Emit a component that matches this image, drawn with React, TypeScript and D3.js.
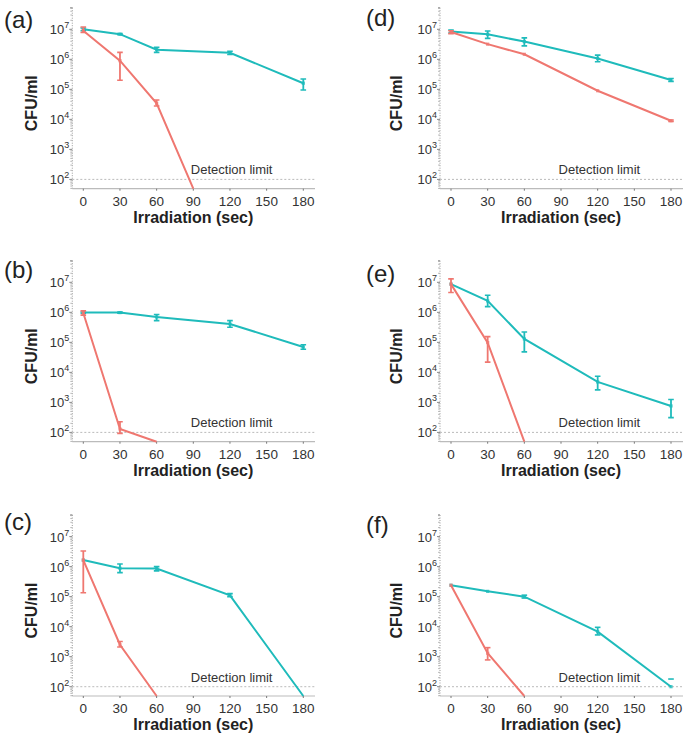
import React from "react";
import * as d3 from "d3";

// Below-detection values are drawn at the axis floor
const FLOOR = 49;

const panelLabels = ["(a)", "(b)", "(c)", "(d)", "(e)", "(f)"];
const xTicks = [0, 30, 60, 90, 120, 150, 180];
const yTickExps = [2, 3, 4, 5, 6, 7];
const xFull = [0, 30, 60, 120, 180];

// (a)
const aTealX = xFull;
const aTeal = [1e7, 6.9e6, 2.1e6, 1.65e6, 1.6e5];
const aTealLo = [9e6, 6.6e6, 1.7e6, 1.45e6, 9.5e4];
const aTealHi = [1.1e7, 7.2e6, 2.5e6, 1.85e6, 2.2e5];
const aRedX = [0, 30, 60, 90];
const aRed = [9e6, 9e5, 3.4e4, FLOOR];
const aRedLo = [7.8e6, 2e5, 2.8e4, NaN];
const aRedHi = [1.2e7, 1.7e6, 4.4e4, NaN];

// (b)
const bTealX = xFull;
const bTeal = [9.8e5, 9.8e5, 7e5, 4.1e5, 7e4];
const bTealLo = [9.3e5, 9.3e5, 5.3e5, 3.2e5, 5.9e4];
const bTealHi = [1.03e6, 1.02e6, 8.5e5, 5.3e5, 8.3e4];
const bRedX = [0, 30, 60];
const bRed = [9.5e5, 130, FLOOR];
const bRedLo = [8.1e5, 93, NaN];
const bRedHi = [1.12e6, 225, NaN];

// (c)
const cTealX = xFull;
const cTeal = [1.65e6, 8.8e5, 8.6e5, 1.1e5, FLOOR];
const cTealLo = [NaN, 6.3e5, 7.2e5, 1e5, NaN];
const cTealHi = [NaN, 1.23e6, 1e6, 1.26e5, NaN];
const cRedX = [0, 30, 60];
const cRed = [1.65e6, 2.5e3, FLOOR];
const cRedLo = [1.35e5, 2.1e3, NaN];
const cRedHi = [3.3e6, 3.2e3, NaN];

// (d)
const dTealX = xFull;
const dTeal = [8.5e6, 6.8e6, 3.9e6, 1.07e6, 2.05e5];
const dTealLo = [7.5e6, 5e6, 2.8e6, 8.3e5, 1.85e5];
const dTealHi = [9.5e6, 8.8e6, 5.2e6, 1.38e6, 2.3e5];
const dRedX = xFull;
const dRed = [8.1e6, 3.2e6, 1.47e6, 9e4, 9e3];
const dRedLo = [7.2e6, NaN, NaN, NaN, 8.5e3];
const dRedHi = [9e6, NaN, NaN, NaN, 9.5e3];

// (e)
const eTealX = xFull;
const eTeal = [8.7e6, 2.4e6, 1.3e5, 4.8e3, 760];
const eTealLo = [NaN, 1.55e6, 4.8e4, 2.6e3, 310];
const eTealHi = [NaN, 3.7e6, 2.2e5, 7.4e3, 1.25e3];
const eRedX = [0, 30, 60];
const eRed = [8.7e6, 9.8e4, FLOOR];
const eRedLo = [4.6e6, 2.2e4, NaN];
const eRedHi = [1.3e7, 1.55e5, NaN];

// (f)
const fTealX = xFull;
const fTeal = [2.4e5, 1.5e5, 1e5, 6.8e3, 100];
const fTealLo = [NaN, NaN, 9e4, 5.3e3, NaN];
const fTealHi = [NaN, NaN, 1.12e5, 9.5e3, 180];
const fRedX = [0, 30, 60];
const fRed = [2.4e5, 1.3e3, FLOOR];
const fRedLo = [NaN, 780, NaN];
const fRedHi = [NaN, 2e3, NaN];

type Series = { x: number[]; y: number[]; lo: number[]; hi: number[] };
const panels: { red: Series; teal: Series }[] = [
  { red: { x: aRedX, y: aRed, lo: aRedLo, hi: aRedHi }, teal: { x: aTealX, y: aTeal, lo: aTealLo, hi: aTealHi } },
  { red: { x: bRedX, y: bRed, lo: bRedLo, hi: bRedHi }, teal: { x: bTealX, y: bTeal, lo: bTealLo, hi: bTealHi } },
  { red: { x: cRedX, y: cRed, lo: cRedLo, hi: cRedHi }, teal: { x: cTealX, y: cTeal, lo: cTealLo, hi: cTealHi } },
  { red: { x: dRedX, y: dRed, lo: dRedLo, hi: dRedHi }, teal: { x: dTealX, y: dTeal, lo: dTealLo, hi: dTealHi } },
  { red: { x: eRedX, y: eRed, lo: eRedLo, hi: eRedHi }, teal: { x: eTealX, y: eTeal, lo: eTealLo, hi: eTealHi } },
  { red: { x: fRedX, y: fRed, lo: fRedLo, hi: fRedHi }, teal: { x: fTealX, y: fTeal, lo: fTealLo, hi: fTealHi } },
];

const TEAL = "#1fbbbb";
const RED = "#ef7770";
const FONT = "'Liberation Sans', Arial, sans-serif";

const colLayout = [
  { axisX: 72.3, x0: 83.3, x1: 303.3, end: 315, labelX: 4, titleX: 37 },
  { axisX: 440, x0: 451, x1: 671, end: 683, labelX: 366, titleX: 402 },
];
const rowBottoms = [188.7, 441.7, 696];
const labelBaselines = [[28, 278, 530], [26, 282, 533]];

function Panel({ idx }: { idx: number }) {
  const col = Math.floor(idx / 3);
  const row = idx % 3;
  const L = colLayout[col];
  const bottom = rowBottoms[row];
  const top = bottom - 181;
  const x = d3.scaleLinear().domain([0, 180]).range([L.x0, L.x1]);
  const y = d3.scaleLog().domain([Math.pow(10, 1.69), Math.pow(10, 7.72)]).range([bottom, top]).clamp(true);
  const data = panels[idx];
  const line = d3.line<[number, number]>().x((d) => x(d[0])).y((d) => y(d[1]));
  const clipId = `clip-${idx}`;
  const minor: number[] = [];
  for (let e = 1; e <= 7; e++) for (let m = 2; m <= 9; m++) {
    const v = m * Math.pow(10, e);
    const py = y(v);
    if (py >= top && py <= bottom && v > Math.pow(10, 1.69)) minor.push(v);
  }
  const renderSeries = (s: Series, color: string) => {
    const pts: [number, number][] = s.x.map((xv, i) => [xv, s.y[i]]);
    return (
      <g clipPath={`url(#${clipId})`}>
        <path d={line(pts) || ""} fill="none" stroke={color} strokeWidth={2} />
        {s.x.map((xv, i) => {
          const lo = s.lo[i], hi = s.hi[i];
          const px = x(xv);
          const els = [];
          if (!isNaN(lo) || !isNaN(hi)) {
            const y1 = y(isNaN(hi) ? s.y[i] : hi);
            const y2 = y(isNaN(lo) ? s.y[i] : lo);
            if (!isNaN(lo) && !isNaN(hi)) {
              els.push(<line key="v" x1={px} x2={px} y1={y1} y2={y2} stroke={color} strokeWidth={1.8} />);
            }
            if (!isNaN(hi)) els.push(<line key="h" x1={px - 2.8} x2={px + 2.8} y1={y1} y2={y1} stroke={color} strokeWidth={1.6} />);
            if (!isNaN(lo)) els.push(<line key="l" x1={px - 2.8} x2={px + 2.8} y1={y2} y2={y2} stroke={color} strokeWidth={1.6} />);
          }
          if (s.y[i] > FLOOR) {
            els.push(<rect key="m" x={px - 1.6} y={y(s.y[i]) - 1.6} width={3.2} height={3.2} fill={color} opacity={0.8} />);
          }
          return <g key={i}>{els}</g>;
        })}
      </g>
    );
  };
  return (
    <g fontFamily={FONT}>
      <defs>
        <clipPath id={clipId}>
          <rect x={L.axisX} y={top} width={L.end - L.axisX} height={bottom - top + 1} />
        </clipPath>
      </defs>
      {/* y axis dotted */}
      <line x1={L.axisX} x2={L.axisX} y1={top} y2={bottom} stroke="#999" strokeWidth={1} strokeDasharray="1,1.5" />
      {minor.map((v) => (
        <line key={v} x1={L.axisX - 2} x2={L.axisX} y1={y(v)} y2={y(v)} stroke="#aaa" strokeWidth={0.8} />
      ))}
      {yTickExps.map((e) => (
        <g key={e}>
          <line x1={L.axisX - 3} x2={L.axisX} y1={y(Math.pow(10, e))} y2={y(Math.pow(10, e))} stroke="#888" strokeWidth={1} />
          <text x={L.axisX - 3} y={y(Math.pow(10, e)) + 5} textAnchor="end" fontSize={13} fill="#333">
            10<tspan dy={-6} fontSize={9}>{e}</tspan>
          </text>
        </g>
      ))}
      {/* x axis */}
      <line x1={L.axisX} x2={L.end} y1={bottom} y2={bottom} stroke="#bbb" strokeWidth={1.2} />
      {xTicks.map((t) => (
        <g key={t}>
          <line x1={x(t)} x2={x(t)} y1={bottom} y2={bottom + 2} stroke="#777" strokeWidth={1} />
          <text x={x(t)} y={bottom + 17} textAnchor="middle" fontSize={13.5} fill="#333">{t}</text>
        </g>
      ))}
      {/* detection limit */}
      <line x1={L.axisX} x2={L.end} y1={y(100)} y2={y(100)} stroke="#aaa" strokeWidth={0.8} strokeDasharray="2,2" />
      <text x={x(88)} y={y(100) - 5} fontSize={13} fill="#333">Detection limit</text>
      {renderSeries(data.teal, TEAL)}
      {renderSeries(data.red, RED)}
      {/* titles */}
      <text x={(L.x0 + L.x1) / 2} y={bottom + 34} textAnchor="middle" fontSize={16} fontWeight="bold" fill="#222">
        Irradiation (sec)
      </text>
      <text
        transform={`translate(${L.titleX},${(top + bottom) / 2 + 5}) rotate(-90)`}
        textAnchor="middle"
        fontSize={16}
        fontWeight="bold"
        fill="#222"
      >
        CFU/ml
      </text>
      <text x={L.labelX} y={labelBaselines[col][row]} fontSize={24} fill="#222">{panelLabels[idx]}</text>
    </g>
  );
}

export default function App() {
  return (
    <svg width={685} height={738} style={{ position: "absolute", left: 0, top: 0, background: "#fff" }}>
      <rect width={685} height={738} fill="#fff" />
      {panels.map((_, i) => (
        <Panel key={i} idx={i} />
      ))}
    </svg>
  );
}
